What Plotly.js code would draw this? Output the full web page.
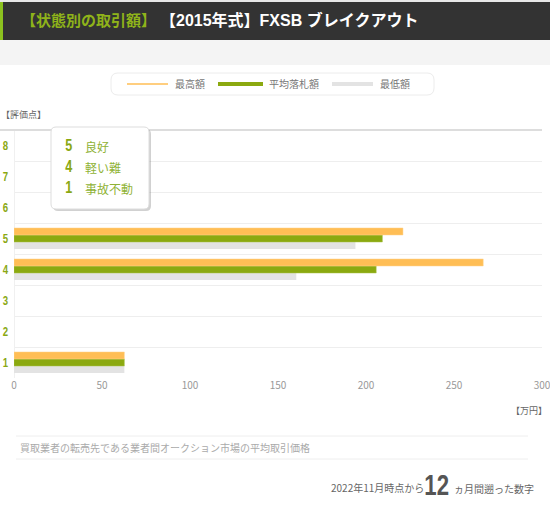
<!DOCTYPE html>
<html>
<head>
<meta charset="utf-8">
<script src="https://cdn.plot.ly/plotly-3.0.1.min.js"></script>
<style>
  html, body { margin: 0; padding: 0; background: #fff; }
  #chart { width: 550px; height: 505px; }
</style>
</head>
<body>
<div id="chart"></div>
<script>
/* data (万円) */
var ratings = ['1', '2', '3', '4', '5', '6', '7', '8'];
var maxPrice = [62.7, null, null, 266.6, 221, null, null, null];
var avgPrice = [62.7, null, null, 205.8, 209.3, null, null, null];
var minPrice = [62.7, null, null, 160.4, 194, null, null, null];
var seriesNames = ['最高額', '平均落札額', '最低額'];
var seriesColors = ['#ffbe55', '#8ba910', '#e3e3e3'];
var xTicks = [0, 50, 100, 150, 200, 250, 300];
var gradeNums = ['5', '4', '1'];
var gradeLabels = ['良好', '軽い難', '事故不動'];

var jp = '"Noto Sans CJK JP", sans-serif';
var head = '"Liberation Sans", "Noto Sans CJK JP", sans-serif';
var digits = '"Liberation Sans", sans-serif';
var green = '#8aa812';

// plot box in page pixels, used to place the decorations
var L = 14, R = 542, T = 130, B = 378;
function fx(p) { return (p - L) / (R - L); }
function fy(p) { return (B - p) / (B - T); }

function roundRect(x0, y0, x1, y1, r) {
  var pts = [
    'M', fx(x0 + r), fy(y0),
    'L', fx(x1 - r), fy(y0), 'Q', fx(x1), fy(y0), fx(x1), fy(y0 + r),
    'L', fx(x1), fy(y1 - r), 'Q', fx(x1), fy(y1), fx(x1 - r), fy(y1),
    'L', fx(x0 + r), fy(y1), 'Q', fx(x0), fy(y1), fx(x0), fy(y1 - r),
    'L', fx(x0), fy(y0 + r), 'Q', fx(x0), fy(y0), fx(x0 + r), fy(y0), 'Z'
  ];
  return pts.join(' ');
}

function text(t, x, y, size, color, opts) {
  var a = {
    text: t, xref: 'paper', yref: 'paper', x: fx(x), y: fy(y),
    xanchor: 'left', yanchor: 'middle', showarrow: false,
    font: {family: jp, size: size, color: color}
  };
  for (var k in (opts || {})) {
    if (k === 'font') Object.assign(a.font, opts.font); else a[k] = opts[k];
  }
  return a;
}

// bottom to top inside each group: 最低額, 平均落札額, 最高額
var traces = [
  {y: ratings, x: minPrice, name: seriesNames[2], type: 'bar', orientation: 'h',
   marker: {color: seriesColors[2]}},
  {y: ratings, x: avgPrice, name: seriesNames[1], type: 'bar', orientation: 'h',
   marker: {color: seriesColors[1], line: {color: '#a9c24a', width: 0.5}}},
  {y: ratings, x: maxPrice, name: seriesNames[0], type: 'bar', orientation: 'h',
   marker: {color: seriesColors[0], line: {color: '#ffd58e', width: 0.5}}}
];

var shapes = [
  // header
  {type: 'rect', xref: 'paper', yref: 'paper', x0: fx(0), x1: fx(550), y0: fy(0), y1: fy(2),
   fillcolor: '#e8e8e8', line: {width: 0}},
  {type: 'rect', xref: 'paper', yref: 'paper', x0: fx(0), x1: fx(550), y0: fy(2), y1: fy(40),
   fillcolor: '#333333', line: {width: 0}},
  {type: 'rect', xref: 'paper', yref: 'paper', x0: fx(0), x1: fx(3), y0: fy(2), y1: fy(40),
   fillcolor: '#8cc21f', line: {width: 0}},
  {type: 'rect', xref: 'paper', yref: 'paper', x0: fx(0), x1: fx(550), y0: fy(40), y1: fy(65),
   fillcolor: '#f4f4f4', line: {width: 0}},
  // legend frame
  {type: 'path', xref: 'paper', yref: 'paper', path: roundRect(111, 73, 434, 95, 7),
   fillcolor: '#ffffff', line: {color: '#ececec', width: 1}},
  // top line of the plot
  {type: 'line', xref: 'paper', yref: 'paper', x0: fx(0), x1: 1, y0: 1, y1: 1,
   line: {color: '#dddddd', width: 2}},
  // grade box with shadow
  {type: 'path', xref: 'paper', yref: 'paper', path: roundRect(53, 129, 151, 211, 5),
   fillcolor: 'rgba(0,0,0,0.18)', line: {width: 0}, layer: 'above'},
  {type: 'path', xref: 'paper', yref: 'paper', path: roundRect(51, 127, 149, 209, 5),
   fillcolor: '#ffffff', line: {color: '#dddddd', width: 1}, layer: 'above'},
  // footer rules
  {type: 'line', xref: 'paper', yref: 'paper', x0: fx(16), x1: fx(528), y0: fy(436), y1: fy(436),
   line: {color: '#eeeeee', width: 1}},
  {type: 'line', xref: 'paper', yref: 'paper', x0: fx(16), x1: fx(528), y0: fy(459), y1: fy(459),
   line: {color: '#eeeeee', width: 1}}
];

// legend keys
var keyX = [[127, 168], [218, 263], [332, 373]];
var keyW = [1.5, 4, 4];
var labelX = [173, 267, 378];
keyX.forEach(function (k, i) {
  shapes.push({type: 'line', xref: 'paper', yref: 'paper', x0: fx(k[0]), x1: fx(k[1]),
    y0: fy(84), y1: fy(84), line: {color: seriesColors[i], width: keyW[i]}});
});

var annotations = [
  text('【状態別の取引額】', 19, 20, 15, '#8fb31a', {font: {weight: 'bold'}}),
  text('【2015年式】FXSB ブレイクアウト', 158, 20, 16, '#ffffff', {font: {family: head, weight: 'bold'}}),
  text('【評価点】', -1, 114, 9, '#666666'),
  text('【万円】', 509, 410, 9, '#666666'),
  text('買取業者の転売先である業者間オークション市場の平均取引価格', 18, 447, 10, '#aaaaaa'),
  text('2022年11月時点から', 329, 487, 10, '#666666'),
  text('12', 418, 484, 30, '#555555', {font: {family: digits, weight: 'bold'}}),
  text('ヵ月間遡った数字', 452, 488, 10, '#666666')
];
seriesNames.forEach(function (n, i) {
  annotations.push(text(n, labelX[i], 84, 10, '#777777'));
});
gradeNums.forEach(function (n, i) {
  var y = 145 + i * 21;
  annotations.push(text(n, 62, y, 17, green, {font: {family: digits, weight: 'bold'}}));
  annotations.push(text(gradeLabels[i], 83, y + 1, 12, '#8fb236'));
});

var layout = {
  width: 550, height: 505,
  margin: {l: L, r: 550 - R, t: T, b: 505 - B, pad: 0},
  paper_bgcolor: '#ffffff', plot_bgcolor: '#ffffff',
  showlegend: false,
  barmode: 'group', bargap: 0.32, bargroupgap: 0,
  xaxis: {
    range: [0, 300], tickvals: xTicks, showgrid: false,
    zeroline: true, zerolinecolor: '#f0f0f0', zerolinewidth: 1,
    tickfont: {family: jp, size: 10, color: '#999999'}, ticks: '',
    ticklabeloverflow: 'allow', fixedrange: true
  },
  yaxis: {
    type: 'category', categoryorder: 'array', categoryarray: ratings,
    range: [-0.5, 7.5], tickson: 'boundaries', ticks: '',
    showgrid: true, gridcolor: '#eeeeee', gridwidth: 1,
    tickfont: {family: digits, size: 13, color: green, weight: 'bold'},
    ticklabelstandoff: 4, fixedrange: true
  },
  shapes: shapes,
  annotations: annotations
};

Plotly.newPlot('chart', traces, layout, {displayModeBar: false, staticPlot: true}).then(function (gd) {
  // the digits in the original are a bold condensed face: squeeze them sideways
  gd.querySelectorAll('.ytick text, .annotation-text').forEach(function (el) {
    if (!/^\d+$/.test(el.textContent)) return;
    var b = el.getBBox();
    var cx = b.x + b.width / 2;
    var old = el.getAttribute('transform') || '';
    el.setAttribute('transform', old + ' translate(' + cx + ',0) scale(0.74,1) translate(' + (-cx) + ',0)');
  });
});
</script>
</body>
</html>
